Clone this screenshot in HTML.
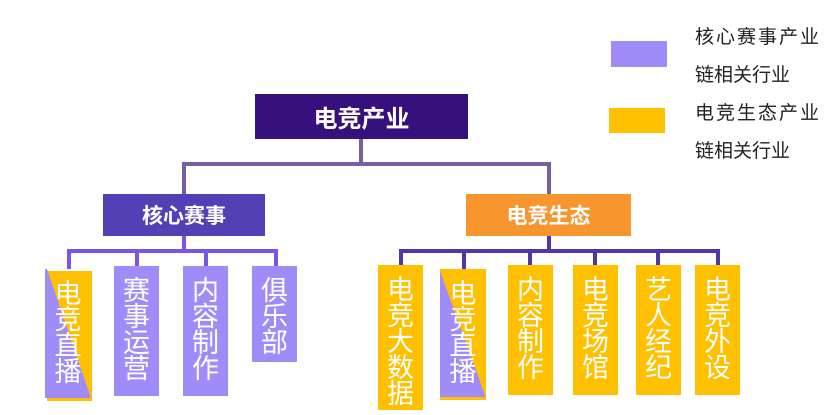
<!DOCTYPE html>
<html><head><meta charset="utf-8"><style>
body{margin:0;width:839px;height:415px;background:#fff;position:relative;overflow:hidden;font-family:"Liberation Sans","Noto Sans CJK SC",sans-serif}
.a{position:absolute}
.hb{position:absolute;color:#fff;font-weight:bold;display:flex;align-items:center;justify-content:center}
.c{position:absolute;color:#fff;font-size:27px;line-height:26px;text-align:center;padding-top:12px;box-sizing:border-box}
.p{background:#A08CF8}.y{background:#FFC000}
.l{position:absolute;font-size:19px;color:#222}
</style></head><body>
<div class="a" style="left:359px;top:138px;width:4px;height:27px;background:#7560A3"></div>
<div class="a" style="left:182px;top:162px;width:369px;height:4px;background:#7560A3"></div>
<div class="a" style="left:182px;top:162px;width:4px;height:32px;background:#7560A3"></div>
<div class="a" style="left:547px;top:162px;width:4px;height:32px;background:#7560A3"></div>
<div class="hb" style="left:255px;top:94px;width:213px;height:45px;background:#36107C;font-size:24px">电竞产业</div>
<div class="hb" style="left:103px;top:194px;width:162px;height:42px;background:#5240B4;font-size:21px">核心赛事</div>
<div class="hb" style="left:466px;top:194px;width:165px;height:42px;background:#F7962F;font-size:21px">电竞生态</div>
<div class="a" style="left:182px;top:236px;width:4px;height:16px;background:#7A55E8"></div>
<div class="a" style="left:67px;top:249px;width:211px;height:4px;background:#7A55E8"></div>
<div class="a" style="left:67px;top:249px;width:4px;height:20px;background:#7A55E8"></div>
<div class="a" style="left:135px;top:249px;width:4px;height:17px;background:#7A55E8"></div>
<div class="a" style="left:204px;top:249px;width:4px;height:17px;background:#7A55E8"></div>
<div class="a" style="left:274px;top:249px;width:4px;height:17px;background:#7A55E8"></div>
<div class="a" style="left:547px;top:236px;width:4px;height:16px;background:#5533A8"></div>
<div class="a" style="left:399px;top:249px;width:321px;height:4px;background:#5533A8"></div>
<div class="a" style="left:399px;top:249px;width:4px;height:16px;background:#5533A8"></div>
<div class="a" style="left:462px;top:249px;width:4px;height:20px;background:#5533A8"></div>
<div class="a" style="left:528px;top:249px;width:4px;height:16px;background:#5533A8"></div>
<div class="a" style="left:593px;top:249px;width:4px;height:16px;background:#5533A8"></div>
<div class="a" style="left:656px;top:249px;width:4px;height:16px;background:#5533A8"></div>
<div class="a" style="left:716px;top:249px;width:4px;height:16px;background:#5533A8"></div>
<svg class="a" style="left:45px;top:269px" width="47" height="132"><rect x="2" y="2" width="45" height="130" fill="#FFC000"/><polygon points="0,0 2,0 46,129 0,129" fill="#A08CF8"/></svg>
<div class="c" style="left:45px;top:269px;width:46px;height:131px">电<br>竞<br>直<br>播</div>
<div class="c p" style="left:114px;top:266px;width:45px;height:130px">赛<br>事<br>运<br>营</div>
<div class="c p" style="left:183px;top:266px;width:45px;height:130px">内<br>容<br>制<br>作</div>
<div class="c p" style="left:252px;top:266px;width:45px;height:96px">俱<br>乐<br>部</div>
<div class="c y" style="left:378px;top:265px;width:45px;height:145px">电<br>竞<br>大<br>数<br>据</div>
<svg class="a" style="left:440px;top:269px" width="47" height="132"><rect x="0" y="0" width="46" height="131" fill="#FFC000"/><polygon points="0,2 46,129 0,129" fill="#A08CF8"/><rect x="0" y="128" width="46" height="3" fill="#FFC000"/></svg>
<div class="c" style="left:440px;top:269px;width:46px;height:131px">电<br>竞<br>直<br>播</div>
<div class="c y" style="left:508px;top:265px;width:45px;height:130px">内<br>容<br>制<br>作</div>
<div class="c y" style="left:573px;top:265px;width:45px;height:130px">电<br>竞<br>场<br>馆</div>
<div class="c y" style="left:636px;top:265px;width:45px;height:130px">艺<br>人<br>经<br>纪</div>
<div class="c y" style="left:695px;top:265px;width:45px;height:130px">电<br>竞<br>外<br>设</div>
<div class="a" style="left:611px;top:41px;width:56px;height:26px;background:#A08CF8"></div>
<div class="a" style="left:609px;top:108px;width:56px;height:25px;background:#FFC000"></div>
<div class="l" style="left:695px;top:22px;letter-spacing:2px">核心赛事产业</div>
<div class="l" style="left:695px;top:60px">链相关行业</div>
<div class="l" style="left:695px;top:98px;letter-spacing:2px">电竞生态产业</div>
<div class="l" style="left:695px;top:136px">链相关行业</div>
</body></html>
